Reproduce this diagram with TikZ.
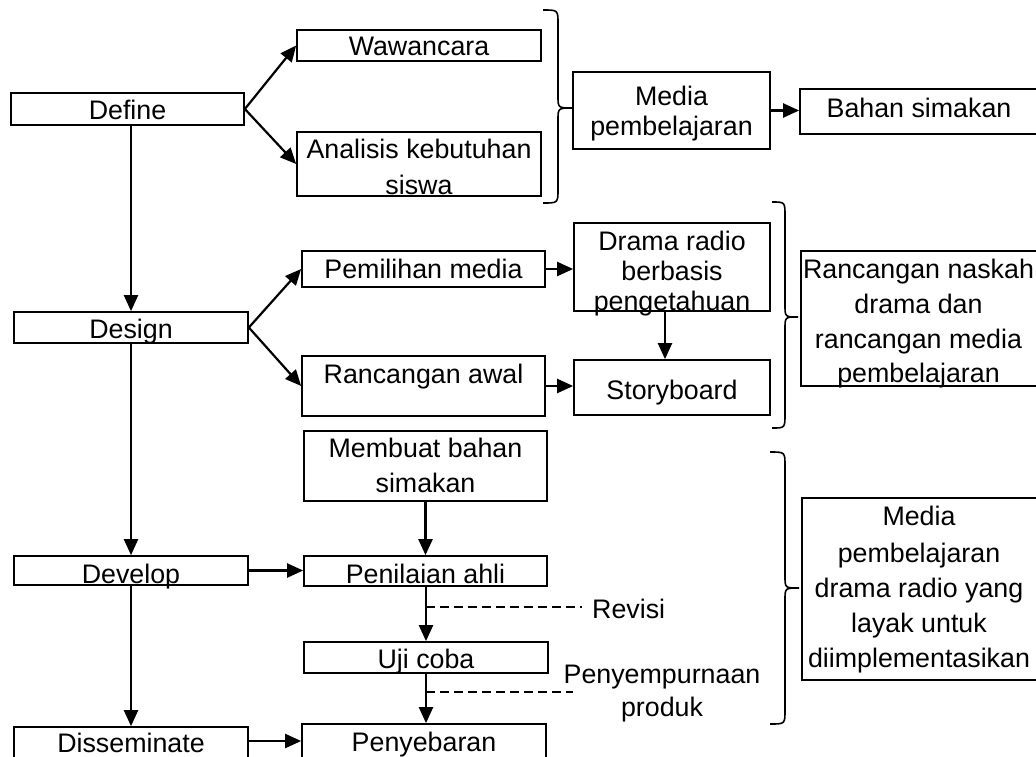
\documentclass[tikz,border=0pt]{standalone}
\usepackage{fontspec}
\setmainfont{Liberation Sans}
\usetikzlibrary{arrows.meta}
\newcommand\mkbox[5]{\node[bx, minimum width={(#3-#2)*1pt}, minimum height={(#5-#4)*1pt}] (#1) at ({(#2+#3)/2},{(#4+#5)/2}) {};}
\newcommand\tx[4]{\node[tx] (#1) at (#2,#3) {#4};}
\newcommand\cbrace[6]{\draw[br] (#1,#4) .. controls (#2,#4) .. ({#2},{#4+14}) -- ({#2},{#5-12}) .. controls (#2,#5) .. (#3,#5) .. controls (#2,#5) .. ({#2},{#5+12}) -- ({#2},{#6-14}) .. controls (#2,#6) .. (#1,#6);}
\begin{document}
\begin{tikzpicture}[x=1pt,y=-1pt,
  bx/.style={draw, line width=1.7pt, inner sep=0pt, rectangle},
  tx/.style={anchor=base, inner sep=0pt, font=\fontsize{26.8pt}{32pt}\selectfont},
  arr/.style={line width=2.2pt, -{Triangle[length=16pt,width=14pt]}},
  dsh/.style={line width=1.6pt, dash pattern=on 9pt off 5pt},
  br/.style={line width=1.6pt}]
\useasboundingbox (0,0) rectangle (1036,756);
\clip (0,0) rectangle (1036,756);
% boxes
\mkbox{define}{11}{244}{93}{125}
\mkbox{wawancara}{297}{541}{30}{61}
\mkbox{analisis}{297}{541}{132}{196}
\mkbox{mediaA}{573}{770}{72}{149}
\mkbox{bahan}{800}{1042}{89}{134}
\mkbox{design}{14}{248}{312}{343}
\mkbox{pemilihan}{302}{545}{251}{287}
\mkbox{rancawal}{302}{545}{356}{416}
\mkbox{drama}{574}{770}{223}{311}
\mkbox{storyboard}{574}{770}{360}{415}
\mkbox{naskah}{801}{1042}{251}{386}
\mkbox{membuat}{304}{547}{431}{501}
\mkbox{develop}{14}{248}{556}{585}
\mkbox{penilaian}{304}{547}{556}{586}
\mkbox{uji}{304}{548}{642}{673}
\mkbox{dissem}{14}{248}{727}{800}
\mkbox{penyebaran}{302}{546}{724}{800}
\mkbox{mediaB}{802}{1042}{498}{680}
% texts
\tx{t1}{127.5}{119}{Define}
\tx{t2}{419}{55}{Wawancara}
\tx{t3}{419}{158}{Analisis kebutuhan}
\tx{t4}{419}{194}{siswa}
\tx{t5}{671.5}{105}{Media}
\tx{t6}{671.5}{135}{pembelajaran}
\tx{t7}{919}{117}{Bahan simakan}
\tx{t8}{131}{338}{Design}
\tx{t9}{423.5}{278}{Pemilihan media}
\tx{t10}{423.5}{383}{Rancangan awal}
\tx{t11}{672}{250}{Drama radio}
\tx{t12}{672}{280}{berbasis}
\tx{t13}{672}{310}{pengetahuan}
\tx{t14}{672}{399}{Storyboard}
\tx{t15}{918.5}{278}{Rancangan naskah}
\tx{t16}{918.5}{313}{drama dan}
\tx{t17}{918.5}{348}{rancangan media}
\tx{t18}{918.5}{382}{pembelajaran}
\tx{t19}{425.5}{457}{Membuat bahan}
\tx{t20}{425.5}{492}{simakan}
\tx{t21}{131}{583}{Develop}
\tx{t22}{425.5}{583}{Penilaian ahli}
\tx{t23}{426}{668}{Uji coba}
\tx{t24}{131}{752}{Disseminate}
\tx{t25}{424}{751}{Penyebaran}
\tx{t26}{919}{525}{Media}
\tx{t27}{919}{562}{pembelajaran}
\tx{t28}{919}{597}{drama radio yang}
\tx{t29}{919}{632}{layak untuk}
\tx{t30}{919}{667}{diimplementasikan}
\node[tx, anchor=base west] (t31) at (592,618) {Revisi};
\tx{t32}{662}{683}{Penyempurnaan}
\tx{t33}{662}{716}{produk}
% connectors
\draw[arr] (define.east) -- (wawancara.west);
\draw[arr] (define.east) -- (analisis.west);
\draw[arr] (mediaA.east) -- (bahan.west |- mediaA.east);
\draw[arr] (design.north |- define.south) -- (design.north);
\draw[arr] (design.east) -- (pemilihan.west);
\draw[arr] (design.east) -- (rancawal.west);
\draw[arr] (pemilihan.east) -- (drama.west |- pemilihan.east);
\draw[arr] (rancawal.east) -- (storyboard.west |- rancawal.east);
\draw[arr] ([xshift=-7pt]drama.south) -- ([xshift=-7pt]storyboard.north);
\draw[arr] (develop.north |- design.south) -- (develop.north);
\draw[arr] (membuat.south) -- (penilaian.north);
\draw[arr] (develop.east) -- (penilaian.west |- develop.east);
\draw[arr] (penilaian.south) -- (uji.south |- penilaian.south) -- (uji.north);
\draw[arr] (uji.south) -- (penyebaran.north -| uji.south);
\draw[arr] (dissem.north |- develop.south) -- (dissem.north);
\coordinate (dissemR) at (248,741);
\draw[arr] (dissemR) -- (penyebaran.west |- dissemR);
\coordinate (rev) at (582,607);
\coordinate (pen) at (573,692);
\draw[dsh] (penilaian.south |- rev) -- (rev);
\draw[dsh] (uji.south |- pen) -- (pen);
% braces
\cbrace{543}{558}{573}{10}{108}{203}
\cbrace{772}{785}{798}{202}{317}{428}
\cbrace{770}{785}{799}{452}{588}{724}
\end{tikzpicture}
\end{document}
